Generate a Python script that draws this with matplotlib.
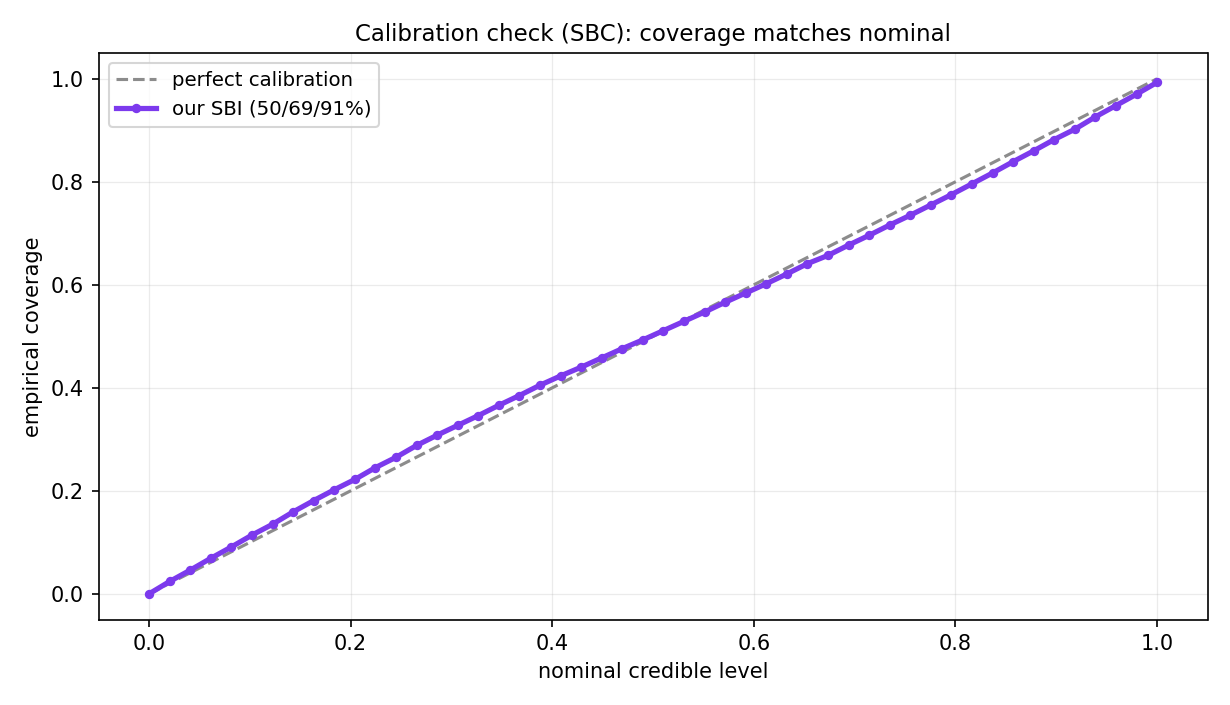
import matplotlib
matplotlib.use('Agg')
import matplotlib.pyplot as plt
import numpy as np

# nominal credible levels (50 evenly spaced points from 0 to 1)
nominal = np.linspace(0.0, 1.0, 50)

# empirical coverage
coverage = [
    0.000, 0.024, 0.046, 0.069, 0.091, 0.114, 0.135, 0.159, 0.181, 0.202,
    0.222, 0.245, 0.265, 0.288, 0.308, 0.327, 0.346, 0.366, 0.385, 0.405,
    0.423, 0.440, 0.458, 0.476, 0.493, 0.511, 0.529, 0.547, 0.566, 0.584,
    0.602, 0.621, 0.641, 0.657, 0.677, 0.696, 0.716, 0.735, 0.755, 0.775,
    0.796, 0.817, 0.839, 0.860, 0.882, 0.902, 0.926, 0.948, 0.970, 0.993,
]

fig, ax = plt.subplots(figsize=(8.2, 4.7), dpi=150)

ax.plot([0, 1], [0, 1], '--', color='gray', alpha=0.9, lw=1.5,
        label='perfect calibration')
ax.plot(nominal, coverage, '-o', color='#7c3aed', lw=2.5, ms=3.5,
        label='our SBI (50/69/91%)')

ax.set_xlabel('nominal credible level')
ax.set_ylabel('empirical coverage')
ax.set_title('Calibration check (SBC): coverage matches nominal', fontsize=11)
ax.grid(True, alpha=0.25, lw=0.6)
ax.legend(loc='upper left', fontsize=9.5)

fig.tight_layout()
fig.savefig('out.png', dpi=150)
